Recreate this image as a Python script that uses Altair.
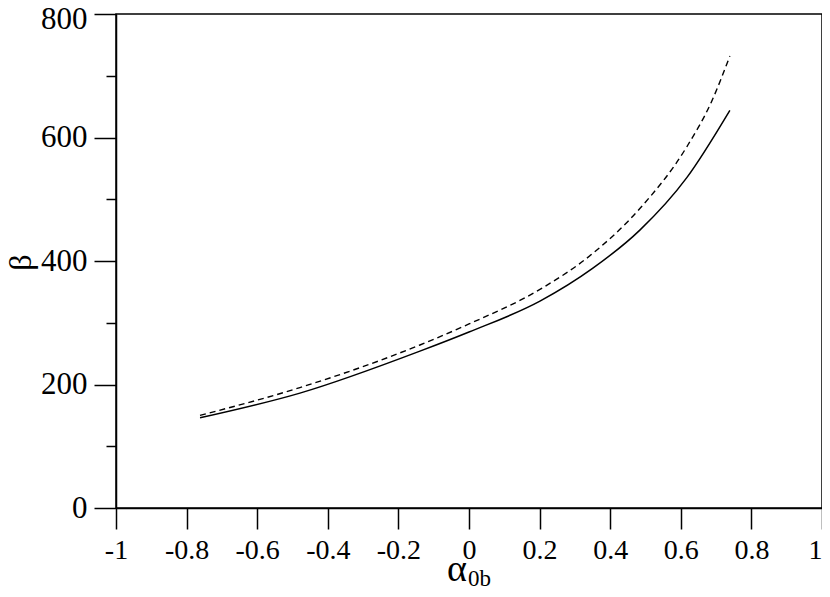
import altair as alt
import pandas as pd

# values
alpha_solid = [-0.762, -0.479, -0.139, 0.0, 0.201, 0.35, 0.484, 0.617, 0.739]
beta_solid = [146, 186, 254, 285, 335, 388, 450, 535, 644]

alpha_dash = [-0.762, -0.479, -0.139, 0.0, 0.201, 0.35, 0.484, 0.617, 0.687, 0.739]
beta_dash = [150, 195, 264, 298, 354, 412, 485, 585, 658, 732]

x_ticks = [-1, -0.9, -0.8, -0.7, -0.6, -0.5, -0.4, -0.3, -0.2, -0.1, 0,
           0.1, 0.2, 0.3, 0.4, 0.5, 0.6, 0.7, 0.8, 0.9, 1]
y_ticks = [0, 100, 200, 300, 400, 500, 600, 700, 800]

df_solid = pd.DataFrame({"a": alpha_solid, "b": beta_solid})
df_dash = pd.DataFrame({"a": alpha_dash, "b": beta_dash})

FONT = "Liberation Serif"

x_major = "abs(round(datum.value*10)) % 2 == 0"
y_major = "datum.value % 200 == 0"

xaxis = alt.Axis(
    values=x_ticks,
    title=None,
    grid=False,
    labelExpr=f"{x_major} ? '' + datum.value : ''",
    tickSize={"condition": {"test": x_major, "value": 21}, "value": 10},
    labelAlign={"condition": {"test": "datum.value == 1", "value": "right"}, "value": "center"},
    labelFont=FONT, labelFontSize=28, labelColor="black",
    labelPadding=7, labelFlush=False, labelOverlap=False, labelBound=False,
    domainColor="black", domainWidth=1.5, tickColor="black", tickWidth=1.5,
)
yaxis = alt.Axis(
    values=y_ticks,
    title="β",
    grid=False,
    labelExpr=f"{y_major} ? '' + datum.value : ''",
    tickSize={"condition": {"test": y_major, "value": 22}, "value": 10},
    labelOffset={"condition": {"test": "datum.value == 800", "value": 5}, "value": 0},
    labelFont=FONT, labelFontSize=31, labelColor="black",
    labelPadding=7, labelFlush=False, labelOverlap=False, labelBound=False,
    domainColor="black", domainWidth=1.5, tickColor="black", tickWidth=1.5,
    titleFont=FONT, titleFontSize=32, titleFontWeight="normal", titleColor="black",
    titleAngle=270, titleX=-86, titleY=248, titleAlign="center", titleBaseline="alphabetic",
)

xs = alt.Scale(domain=[-1, 1], nice=False, zero=False)
ys = alt.Scale(domain=[0, 800], nice=False)

solid = alt.Chart(df_solid).mark_line(
    color="black", strokeWidth=1.5, interpolate="monotone"
).encode(
    x=alt.X("a:Q", scale=xs, axis=xaxis),
    y=alt.Y("b:Q", scale=ys, axis=yaxis),
)

dashed = alt.Chart(df_dash).mark_line(
    color="black", strokeWidth=1.4, strokeDash=[6, 4], interpolate="monotone"
).encode(
    x=alt.X("a:Q", scale=xs),
    y=alt.Y("b:Q", scale=ys),
)

alpha_lbl = alt.Chart(pd.DataFrame({"t": ["α"]})).mark_text(
    font=FONT, fontSize=38, align="left", baseline="alphabetic", color="black"
).encode(x=alt.value(331), y=alt.value(567), text="t:N")

sub_lbl = alt.Chart(pd.DataFrame({"t": ["0b"]})).mark_text(
    font=FONT, fontSize=23, align="left", baseline="alphabetic", color="black"
).encode(x=alt.value(352), y=alt.value(572), text="t:N")

chart = alt.layer(solid, dashed, alpha_lbl, sub_lbl).properties(
    width=706,
    height=494,
    autosize=alt.AutoSizeParams(type="none"),
    padding={"left": 108, "top": 6, "right": 0, "bottom": 81},
).configure_view(stroke="black", strokeWidth=1.5)

chart.save("out.html", embed_options={"renderer": "svg", "actions": False})
